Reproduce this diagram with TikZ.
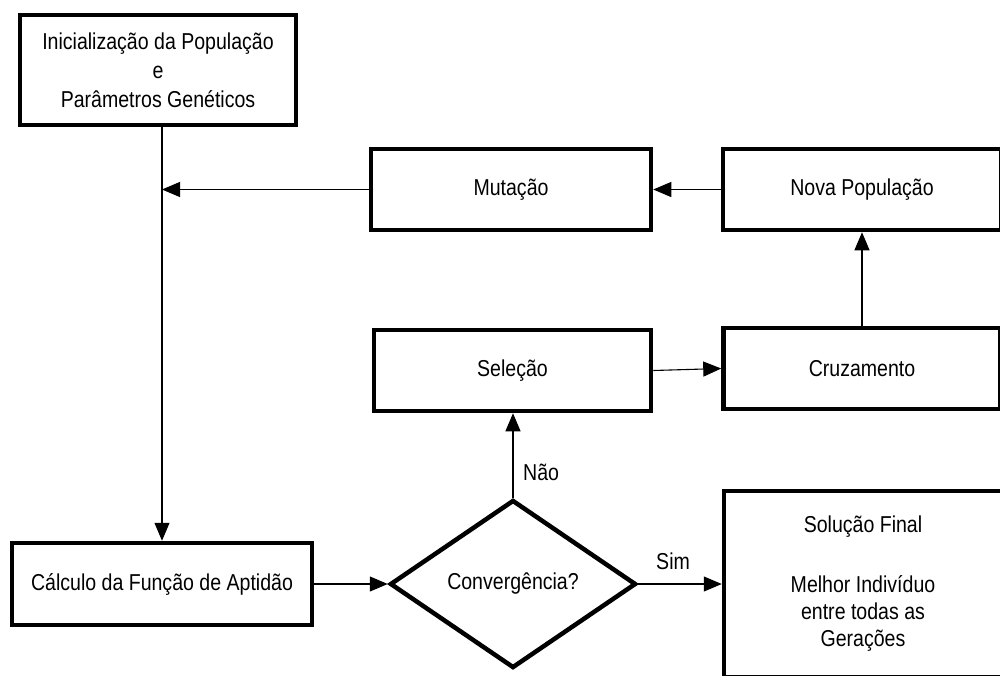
\documentclass[tikz,border=0pt]{standalone}
\usepackage{fontspec}
\setmainfont[FakeStretch=0.85]{Liberation Sans}
\usetikzlibrary{shapes.geometric,arrows.meta}
\begin{document}
\begin{tikzpicture}[x=1pt,y=-1pt,
  txt/.style={font=\fontsize{23}{27}\selectfont},
  box/.style={draw, line width=4.5pt, rectangle, inner sep=0pt, align=center, txt},
  dec/.style={draw, line width=4.5pt, diamond, inner sep=0pt, txt},
  conn/.style={line width=1.1pt, -{Triangle[length=18pt,width=15pt]}},
  lbl/.style={inner sep=0pt, anchor=base west, txt}]
\clip (0,0) rectangle (1000,675);
\fill[white] (0,0) rectangle (1000,675);

\node[box, minimum width=276pt, minimum height=110pt, font=\fontsize{23}{29}\selectfont] (init) at (158,70)
  {Inicialização da População\\e\\Parâmetros Genéticos};
\node[box, minimum width=280pt, minimum height=81pt] (mut) at (511,189.5) {Mutação};
\node[box, minimum width=278pt, minimum height=81pt] (nova) at (862,189.5) {Nova População};
\node[box, minimum width=277pt, minimum height=81pt] (sel) at (512.5,370.5) {Seleção};
\node[box, minimum width=277pt, minimum height=81pt] (cruz) at (862,368.5) {Cruzamento};
\node[box, minimum width=300pt, minimum height=82pt] (calc) at (162,584) {Cálculo da Função de Aptidão};
\node[dec, minimum width=246pt, minimum height=168pt, aspect=1.46] (conv) at (513,584) {Convergência?};
\node[box, minimum width=278pt, minimum height=186pt] (sol) at (863,584)
  {Solução Final\\[33pt]Melhor Indivíduo\\entre todas as\\Gerações};

\coordinate (j) at (mut.west -| calc.north);
\draw[conn] (init.south -| calc.north) -- (calc.north);
\draw[conn] (mut.west) -- (j);
\draw[conn] (nova.west) -- (mut.east);
\draw[conn] (cruz.north) -- (nova.south);
\draw[conn] (sel.east) -- (cruz.west);
\draw[conn] (conv.north) -- (conv.north |- sel.south);
\draw[conn] (calc.east) -- (conv.west);
\draw[conn] (conv.east) -- (sol.west);

\node[lbl] (nao) at (523,480) {Não};
\node[lbl] (sim) at (656,569) {Sim};
\end{tikzpicture}
\end{document}
